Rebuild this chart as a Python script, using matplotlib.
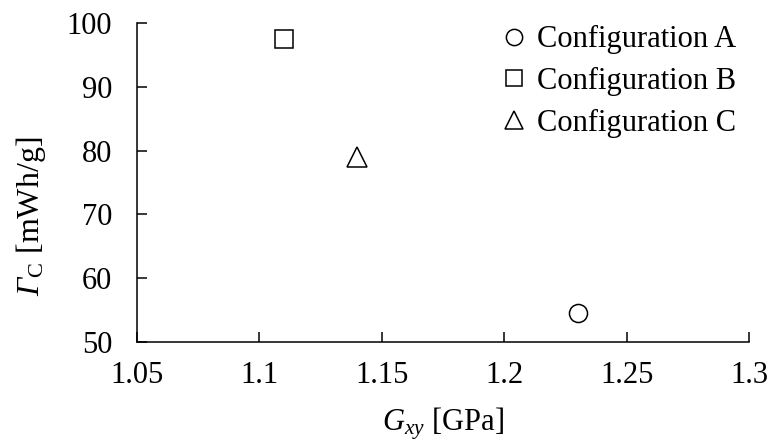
import matplotlib
matplotlib.use("Agg")
import matplotlib.pyplot as plt

plt.rcParams['font.family'] = ['Liberation Serif', 'DejaVu Serif']
plt.rcParams['mathtext.fontset'] = 'custom'
plt.rcParams['mathtext.rm'] = 'Liberation Serif'
plt.rcParams['mathtext.it'] = 'Liberation Serif:italic'
plt.rcParams['mathtext.sf'] = 'Liberation Serif:italic'
plt.rcParams['mathtext.bf'] = 'Liberation Serif:bold'

labels = ["Configuration A", "Configuration B", "Configuration C"]
gxy = [1.23, 1.11, 1.14]
gamma_c = [54.5, 97.5, 79.0]
markers = ["o", "s", "^"]
xticks = [1.05, 1.1, 1.15, 1.2, 1.25, 1.3]
xtick_labels = ["1.05", "1.1", "1.15", "1.2", "1.25", "1.3"]
yticks = [50, 60, 70, 80, 90, 100]

FS = 22
fig = plt.figure(figsize=(7.71, 4.48), dpi=100)
ax = fig.add_axes([137/771, 1-342/448, (749-137)/771, (342-23)/448])

for lab, x, y, m in zip(labels, gxy, gamma_c, markers):
    ax.plot([x], [y], linestyle='none', marker=m, markersize=13 if m != '^' else 14,
            markerfacecolor='white', markeredgecolor='black', markeredgewidth=1.1,
            label=lab, clip_on=False)

ax.set_xlim(1.05, 1.3)
ax.set_ylim(50, 100)
ax.set_xticks(xticks)
ax.set_xticklabels(xtick_labels)
ax.set_yticks(yticks)
for s in ['top', 'right']:
    ax.spines[s].set_visible(False)
for s in ['left', 'bottom']:
    ax.spines[s].set_linewidth(1.1)
ax.tick_params(axis='both', direction='in', length=7, width=1.1, labelsize=FS)
ax.tick_params(axis='x', pad=14)
ax.tick_params(axis='y', pad=18)

ax.set_xlabel(r'$G_{xy}$ [GPa]', fontsize=FS, labelpad=11)
ax.set_ylabel(r'$\mathsf{Γ}_\mathrm{C}$ [mWh/g]', fontsize=FS + 1)
ax.yaxis.set_label_coords(-(137 - 48) / 612, 1 - (216 - 23) / 319)

leg = ax.legend(loc='upper right', bbox_to_anchor=(748/771, 1-13/448), bbox_transform=fig.transFigure,
                frameon=False, fontsize=FS, handletextpad=0.15, markerscale=0.9,
                labelspacing=0.42, borderaxespad=0, handlelength=1.2)

fig.savefig('out.png', dpi=100)
